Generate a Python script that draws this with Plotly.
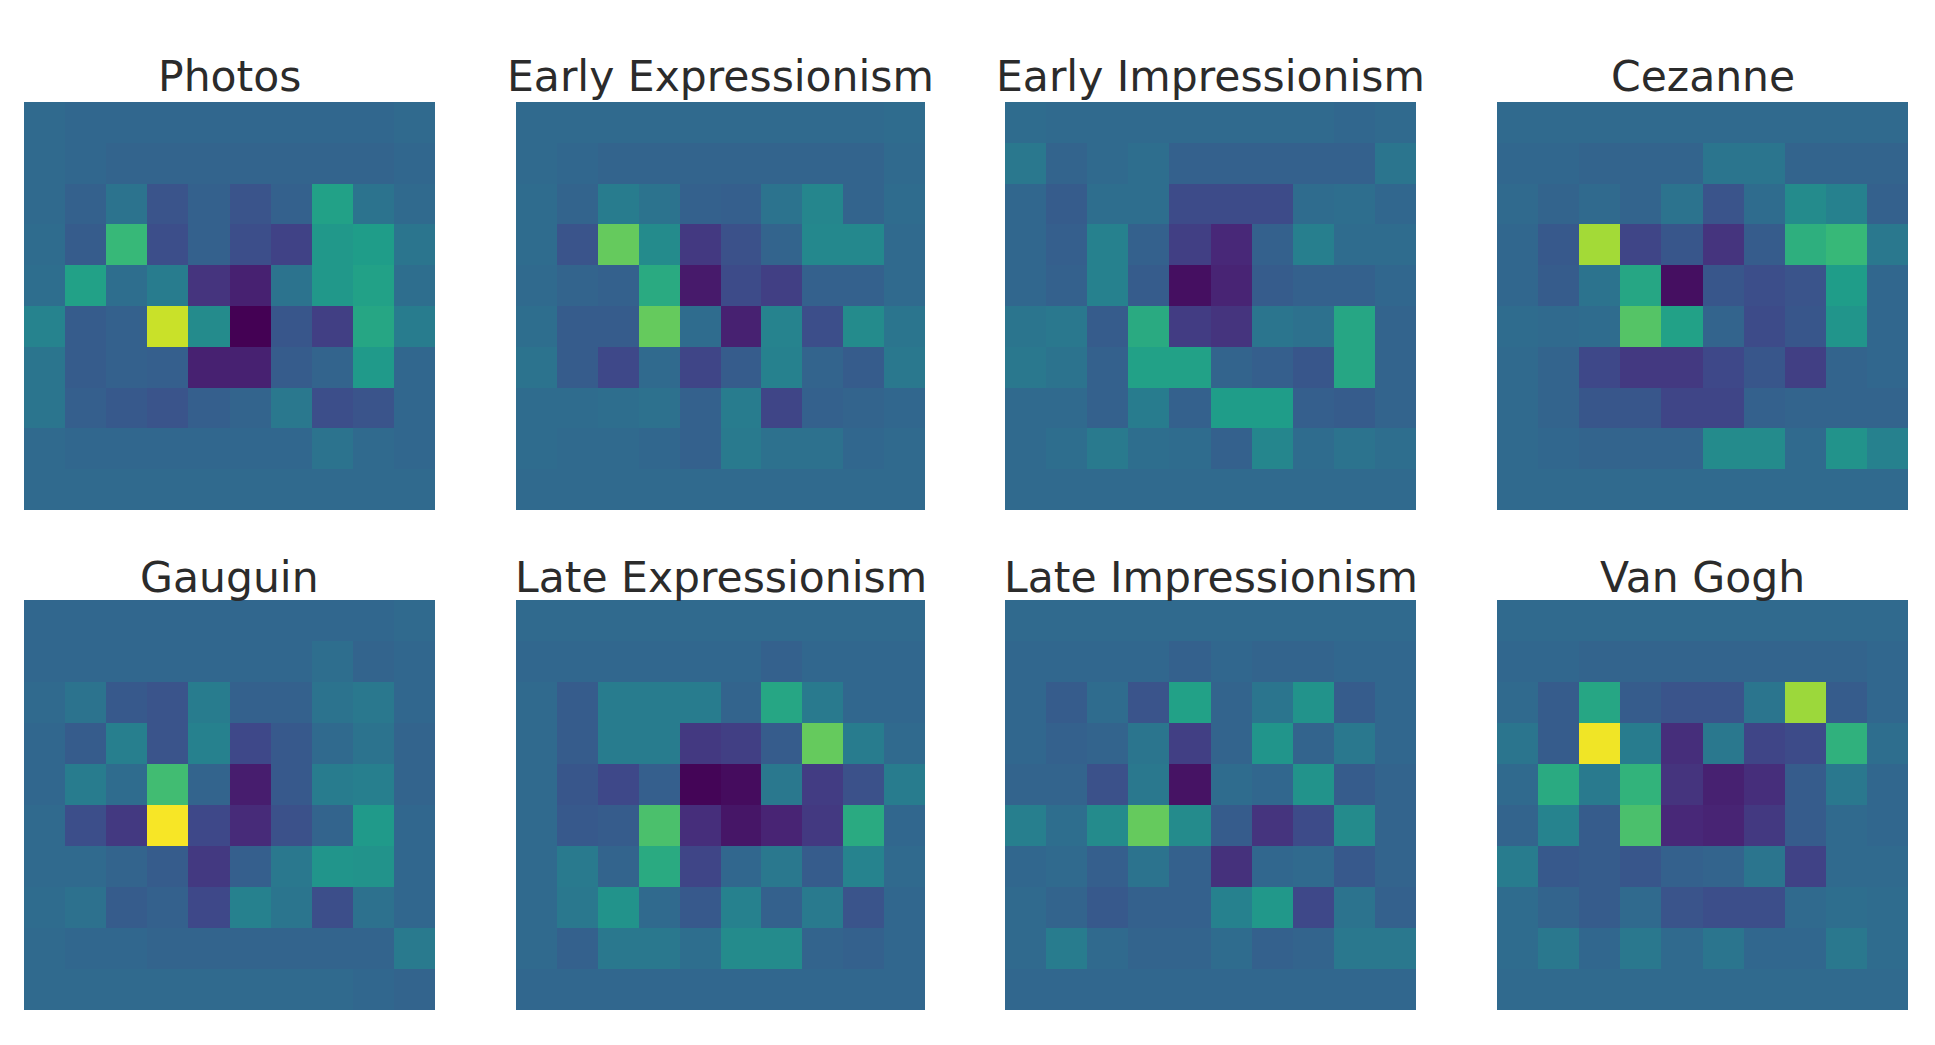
import plotly.graph_objects as go

TITLES = ["Photos", "Early Expressionism", "Early Impressionism", "Cezanne",
          "Gauguin", "Late Expressionism", "Late Impressionism", "Van Gogh"]

photos = [
    [34, 33, 33, 33, 33, 33, 33, 33, 33, 34],
    [34, 33, 32, 32, 32, 32, 32, 32, 32, 33],
    [34, 31, 38, 26, 31, 26, 31, 57, 38, 34],
    [35, 29, 67, 24, 31, 24, 20, 53, 55, 39],
    [36, 57, 36, 42, 15, 9, 38, 53, 57, 36],
    [45, 29, 31, 92, 48, 0, 27, 19, 59, 42],
    [39, 29, 31, 30, 9, 9, 29, 32, 54, 33],
    [39, 30, 28, 26, 30, 32, 40, 24, 26, 33],
    [34, 33, 33, 33, 33, 33, 33, 38, 34, 33],
    [34, 34, 34, 34, 34, 34, 34, 34, 34, 34],
]
early_expressionism = [
    [34, 34, 34, 34, 34, 34, 34, 34, 34, 35],
    [34, 33, 32, 32, 32, 32, 32, 32, 32, 34],
    [35, 32, 42, 38, 31, 30, 38, 46, 32, 35],
    [35, 26, 76, 48, 17, 25, 32, 47, 47, 34],
    [34, 32, 31, 61, 7, 23, 19, 31, 31, 34],
    [36, 29, 29, 76, 35, 9, 45, 24, 48, 39],
    [38, 29, 22, 34, 21, 29, 44, 32, 29, 40],
    [35, 35, 36, 37, 31, 42, 21, 31, 32, 33],
    [35, 34, 34, 33, 31, 41, 37, 37, 33, 34],
    [34, 34, 34, 34, 34, 34, 34, 34, 34, 34],
]
early_impressionism = [
    [35, 34, 34, 34, 34, 34, 34, 34, 33, 34],
    [40, 32, 34, 36, 31, 31, 31, 31, 31, 39],
    [33, 29, 36, 36, 23, 23, 23, 35, 36, 33],
    [33, 30, 44, 31, 19, 11, 31, 43, 35, 35],
    [33, 31, 44, 29, 4, 10, 29, 31, 31, 33],
    [39, 40, 29, 61, 18, 15, 39, 37, 59, 32],
    [40, 38, 31, 57, 57, 32, 30, 27, 59, 32],
    [34, 34, 31, 42, 31, 55, 55, 30, 29, 32],
    [34, 36, 41, 36, 35, 31, 46, 35, 38, 36],
    [34, 34, 34, 34, 34, 34, 34, 34, 34, 34],
]
cezanne = [
    [34, 34, 34, 34, 34, 34, 34, 34, 34, 34],
    [33, 33, 32, 32, 32, 39, 39, 32, 32, 32],
    [34, 32, 34, 32, 38, 26, 35, 48, 44, 31],
    [33, 28, 86, 21, 27, 15, 29, 63, 67, 40],
    [33, 29, 38, 59, 4, 27, 24, 26, 55, 33],
    [35, 34, 35, 73, 57, 32, 23, 27, 52, 33],
    [34, 32, 22, 17, 17, 22, 27, 19, 32, 33],
    [34, 32, 27, 27, 21, 21, 31, 32, 32, 32],
    [34, 33, 32, 32, 32, 48, 48, 34, 51, 44],
    [34, 34, 34, 34, 34, 34, 34, 34, 34, 34],
]
gauguin = [
    [33, 33, 33, 33, 33, 33, 33, 33, 33, 34],
    [33, 33, 33, 33, 33, 33, 33, 36, 32, 33],
    [34, 38, 28, 26, 42, 31, 31, 38, 40, 33],
    [33, 29, 43, 26, 44, 22, 28, 34, 38, 32],
    [33, 42, 35, 69, 32, 8, 28, 42, 43, 32],
    [34, 24, 17, 99, 22, 12, 25, 32, 54, 33],
    [34, 34, 32, 29, 17, 30, 40, 52, 51, 33],
    [35, 37, 29, 31, 22, 44, 39, 24, 37, 33],
    [34, 33, 33, 32, 32, 32, 32, 32, 32, 41],
    [34, 34, 34, 34, 34, 34, 34, 34, 33, 32],
]
late_expressionism = [
    [34, 34, 34, 34, 34, 34, 34, 34, 34, 34],
    [33, 33, 33, 33, 33, 33, 31, 33, 33, 33],
    [34, 29, 42, 42, 42, 32, 59, 41, 33, 33],
    [34, 29, 42, 42, 17, 19, 29, 76, 42, 34],
    [34, 27, 22, 30, 1, 3, 40, 18, 25, 42],
    [34, 28, 29, 71, 13, 6, 10, 17, 61, 33],
    [34, 41, 32, 61, 21, 33, 40, 29, 45, 34],
    [34, 40, 51, 34, 28, 44, 31, 41, 26, 33],
    [34, 31, 40, 40, 36, 48, 48, 32, 31, 33],
    [33, 33, 33, 33, 33, 33, 33, 33, 33, 33],
]
late_impressionism = [
    [34, 34, 34, 34, 34, 34, 34, 34, 34, 34],
    [33, 33, 33, 33, 31, 33, 32, 32, 33, 33],
    [33, 29, 35, 26, 57, 32, 39, 51, 29, 33],
    [33, 31, 32, 39, 19, 32, 52, 32, 40, 33],
    [32, 32, 25, 40, 5, 35, 33, 51, 29, 32],
    [43, 36, 48, 76, 48, 29, 15, 23, 48, 32],
    [33, 34, 30, 38, 31, 14, 33, 34, 28, 32],
    [34, 32, 28, 31, 31, 44, 53, 22, 38, 31],
    [34, 42, 34, 32, 32, 35, 31, 32, 40, 40],
    [33, 33, 33, 33, 33, 33, 33, 33, 33, 33],
]
van_gogh = [
    [34, 34, 34, 34, 34, 34, 34, 34, 34, 34],
    [33, 33, 32, 32, 32, 32, 32, 32, 32, 33],
    [34, 29, 59, 29, 26, 26, 39, 85, 29, 33],
    [39, 29, 98, 42, 13, 40, 21, 23, 64, 36],
    [34, 61, 41, 65, 15, 9, 13, 29, 40, 33],
    [32, 45, 29, 71, 11, 10, 17, 29, 34, 33],
    [42, 28, 29, 27, 31, 32, 39, 20, 34, 34],
    [35, 32, 29, 34, 26, 24, 24, 34, 36, 35],
    [35, 40, 33, 40, 34, 39, 33, 33, 40, 35],
    [34, 34, 34, 34, 34, 34, 34, 34, 34, 34],
]
PANELS = [photos, early_expressionism, early_impressionism, cezanne,
          gauguin, late_expressionism, late_impressionism, van_gogh]

W, H = 1935, 1045
PAGE_MARGIN = 8
COL_SPANS = [(24, 435), (516, 925), (1005, 1416), (1497, 1908)]
ROW_SPANS = [(102, 510), (600, 1010)]
TITLE_BASE = [102, 603]

fig = go.Figure()
annotations = []
layout_axes = {}
for i, (name, z) in enumerate(zip(TITLES, PANELS)):
    row, col = divmod(i, 4)
    x0, x1 = (v - PAGE_MARGIN for v in COL_SPANS[col])
    y0, y1 = (v - PAGE_MARGIN for v in ROW_SPANS[row])
    n = "" if i == 0 else str(i + 1)
    fig.add_trace(go.Heatmap(z=z, zmin=0, zmax=100, colorscale="Viridis", showscale=False,
                             xaxis="x" + n, yaxis="y" + n))
    common = dict(visible=False, showgrid=False, zeroline=False)
    layout_axes["xaxis" + n] = dict(domain=[x0 / W, x1 / W], range=[-0.5, 9.5], anchor="y" + n, **common)
    layout_axes["yaxis" + n] = dict(domain=[1 - y1 / H, 1 - y0 / H], range=[9.5, -0.5], anchor="x" + n, **common)
    annotations.append(dict(text=name, xref="paper", yref="paper", x=(x0 + x1) / 2 / W,
                            y=1 - (TITLE_BASE[row] - PAGE_MARGIN) / H, yanchor="bottom", xanchor="center",
                            showarrow=False, borderpad=0,
                            font=dict(family="DejaVu Sans", size=42.5, color="#2b2b2b")))

fig.update_layout(width=W, height=H, margin=dict(l=0, r=0, t=0, b=0), autosize=False,
                  paper_bgcolor="white", plot_bgcolor="white", annotations=annotations, **layout_axes)
fig.write_html("out.html")
